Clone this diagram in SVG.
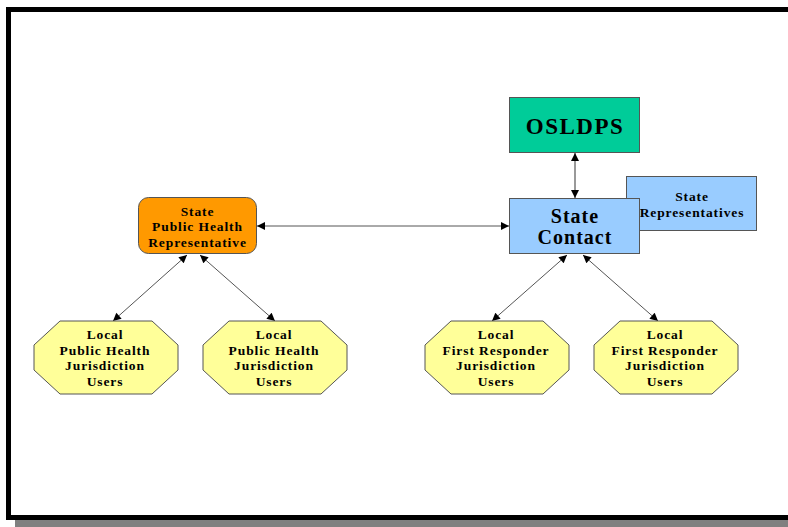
<svg xmlns="http://www.w3.org/2000/svg" width="788" height="527" viewBox="0 0 788 527">
<style>
text{font-family:"Liberation Serif","Times New Roman",serif;font-weight:bold;fill:#000;text-anchor:middle}
.sm{font-size:13.5px;letter-spacing:0.9px}
.oct{fill:#FFFF99;stroke:#555;stroke-width:1}
.con{stroke:#555;stroke-width:1;fill:none;marker-start:url(#ah);marker-end:url(#ah)}
</style>
<defs>
<marker id="ah" viewBox="0 0 10 10" refX="10" refY="5" markerWidth="9" markerHeight="8" markerUnits="userSpaceOnUse" orient="auto-start-reverse">
<path d="M0,0 L10,5 L0,10 z" fill="#000"/>
</marker>
</defs>
<rect x="0" y="0" width="788" height="527" fill="#fff"/>
<rect x="15" y="519" width="780" height="8" fill="#808080"/>
<rect x="8.5" y="9.5" width="800" height="508" fill="#fff" stroke="#000" stroke-width="5"/>

<g id="connectors">
<line class="con" x1="257" y1="226" x2="509" y2="226"/>
<line class="con" x1="575" y1="153" x2="575" y2="198" style="stroke:#777;stroke-width:1.5"/>
<line class="con" x1="187" y1="255" x2="113" y2="321"/>
<line class="con" x1="200" y1="255" x2="275" y2="321"/>
<line class="con" x1="567" y1="255" x2="492" y2="321"/>
<line class="con" x1="583" y1="255" x2="658" y2="321"/>
</g>

<g id="state-phr">
<rect x="138.5" y="197.5" width="118" height="56" rx="10" fill="#FF9900" stroke="#555"/>
<text class="sm" x="197.5" y="215.5">State</text>
<text class="sm" x="197.5" y="231">Public Health</text>
<text class="sm" x="197.5" y="246.5">Representative</text>
</g>

<g id="osldps">
<rect x="509.5" y="97.5" width="130" height="55" fill="#00CC99" stroke="#555"/>
<text x="575" y="134" style="font-size:23px;letter-spacing:1.5px">OSLDPS</text>
</g>

<g id="state-reps">
<rect x="626.5" y="176.5" width="130" height="54" fill="#99CCFF" stroke="#555"/>
<text class="sm" x="692" y="201">State</text>
<text class="sm" x="692" y="216.5">Representatives</text>
</g>

<g id="state-contact">
<rect x="509.5" y="198.5" width="130" height="55" fill="#99CCFF" stroke="#555"/>
<text x="575" y="222.5" style="font-size:20px;letter-spacing:1px">State</text>
<text x="575" y="243.5" style="font-size:20px;letter-spacing:1px">Contact</text>
</g>

<g id="local-ph-1">
<polygon class="oct" points="60,321 152,321 178,345 178,370 152,394 60,394 34,370 34,345"/>
<text class="sm" x="105" y="339">Local</text>
<text class="sm" x="105" y="354.5">Public Health</text>
<text class="sm" x="105" y="370">Jurisdiction</text>
<text class="sm" x="105" y="385.5">Users</text>
</g>

<g id="local-ph-2">
<polygon class="oct" points="229,321 321,321 347,345 347,370 321,394 229,394 203,370 203,345"/>
<text class="sm" x="274" y="339">Local</text>
<text class="sm" x="274" y="354.5">Public Health</text>
<text class="sm" x="274" y="370">Jurisdiction</text>
<text class="sm" x="274" y="385.5">Users</text>
</g>

<g id="local-fr-1">
<polygon class="oct" points="451,321 543,321 569,345 569,370 543,394 451,394 425,370 425,345"/>
<text class="sm" x="496" y="339">Local</text>
<text class="sm" x="496" y="354.5">First Responder</text>
<text class="sm" x="496" y="370">Jurisdiction</text>
<text class="sm" x="496" y="385.5">Users</text>
</g>

<g id="local-fr-2">
<polygon class="oct" points="620,321 712,321 738,345 738,370 712,394 620,394 594,370 594,345"/>
<text class="sm" x="665" y="339">Local</text>
<text class="sm" x="665" y="354.5">First Responder</text>
<text class="sm" x="665" y="370">Jurisdiction</text>
<text class="sm" x="665" y="385.5">Users</text>
</g>
</svg>
